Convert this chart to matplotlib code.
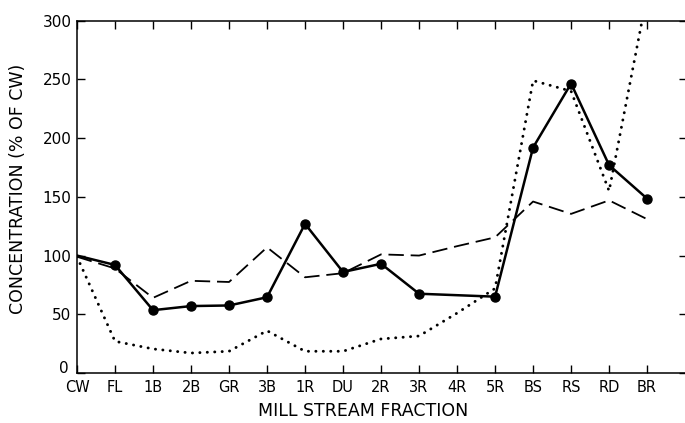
import matplotlib
matplotlib.use("Agg")
import matplotlib.pyplot as plt
import matplotlib.transforms as mtransforms
import numpy as np

categories = ["CW", "FL", "1B", "2B", "GR", "3B", "1R", "DU", "2R", "3R",
              "4R", "5R", "BS", "RS", "RD", "BR"]
solid_vals = [100, 92, 53.5, 57, 57.5, 64.5, 127, 86, 93, 67.5,
              None, 65, 192, 246.5, 177, 148.5]
dashed_vals = [99, 89, 64, 78.5, 77.5, 107, 81.5, 85, 101, 100,
               108, 115.5, 146, 135.5, 147, 131]
dotted_vals = [99, 27, 20.5, 17, 18.5, 36, 18.5, 18.5, 29, 31.5,
               51, 72, 249, 240, 155, 322]
yticks = [0, 50, 100, 150, 200, 250, 300]

W, H = 685, 423
fig = plt.figure(figsize=(W / 100, H / 100), dpi=100)
ax = fig.add_axes([77 / W, (H - 373) / H, (687 - 77) / W, (373 - 20.7) / H])

x = np.arange(len(categories))
sx = [i for i, v in enumerate(solid_vals) if v is not None]
sy = [v for v in solid_vals if v is not None]

ax.plot(x, dotted_vals, color="black", lw=2.1, linestyle=(0, (0.05, 2.5)),
        dash_capstyle="round", solid_capstyle="round")
ax.plot(x, dashed_vals, color="black", lw=1.3, linestyle=(0, (8.5, 3.8)))
ax.plot(sx, sy, color="black", lw=1.8, marker="o", markersize=6.5,
        markevery=list(range(1, len(sx))))

ax.set_xlim(0, 16.05)
ax.set_ylim(0, 300)
ax.set_xticks(x)
ax.set_xticklabels(categories)
ax.set_yticks(yticks)
ax.set_yticklabels([str(t) for t in yticks])

ax.tick_params(axis="both", direction="in", length=5.5, width=1.0,
               top=True, right=True, labelsize=10.5, colors="black")
ax.tick_params(axis="x", pad=5)
ax.tick_params(axis="y", pad=4, labelsize=11)
for sp in ax.spines.values():
    sp.set_linewidth(1.1)

# raise the "0" label slightly like the reference
lbl0 = ax.get_yticklabels()[0]
lbl0.set_transform(lbl0.get_transform() +
                   mtransforms.ScaledTranslation(-0.03, 0.06, fig.dpi_scale_trans))

fig.text(363 / W, 1 - 411 / H, "MILL STREAM FRACTION", ha="center", va="center",
         fontsize=12.5)
fig.text(18 / W, 1 - 189 / H, "CONCENTRATION (% OF CW)", ha="center", va="center",
         rotation=90, fontsize=12.5)

fig.savefig("out.png", dpi=100)
